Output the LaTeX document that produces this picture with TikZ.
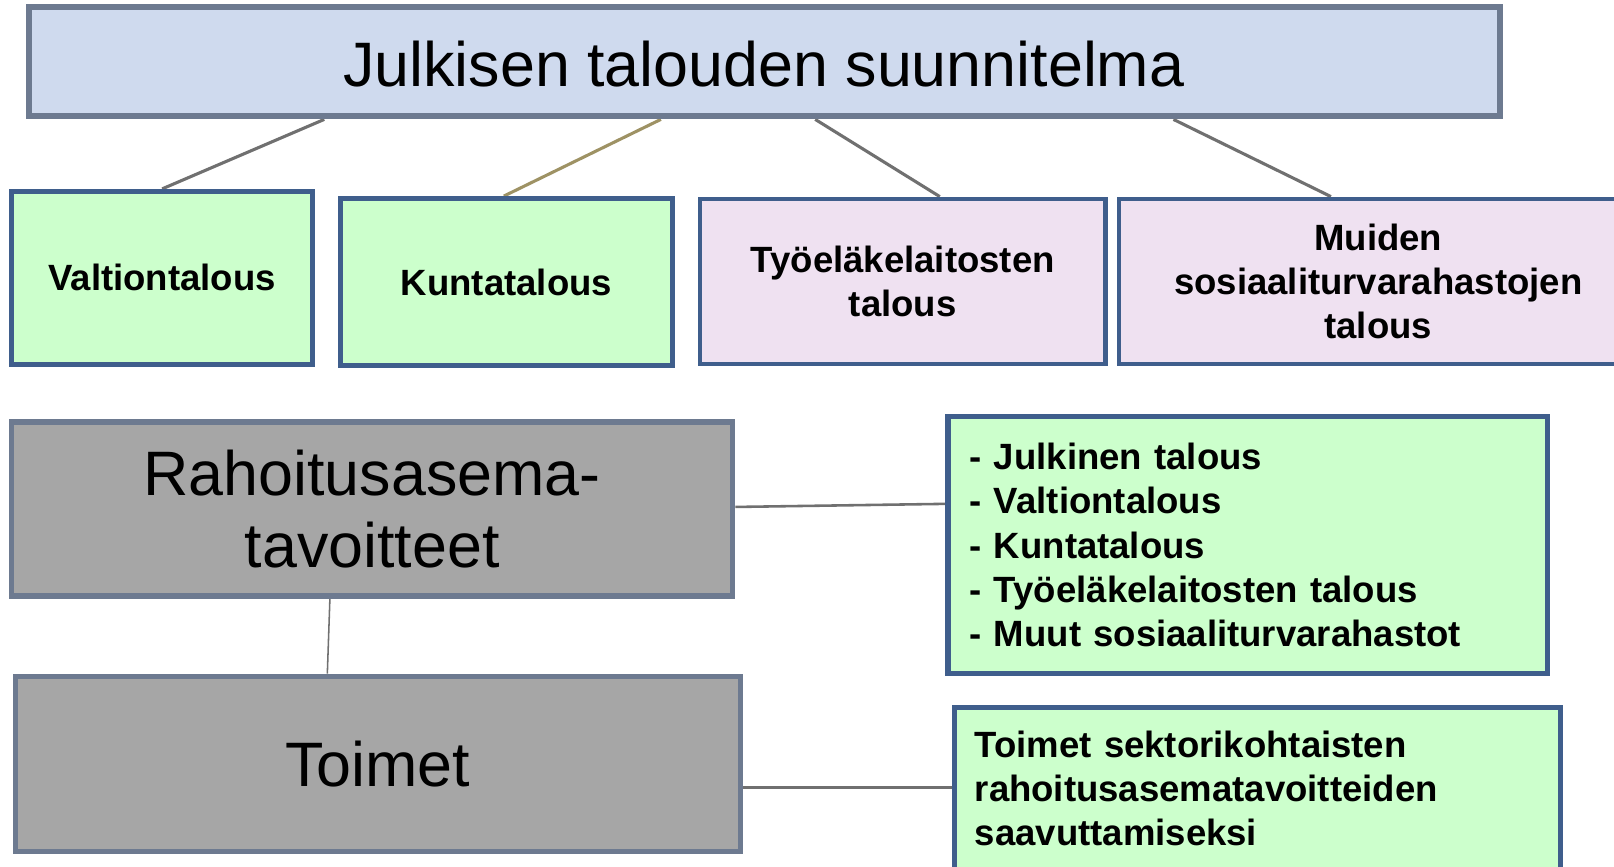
\documentclass[tikz,border=0pt]{standalone}
\usepackage{fontspec}
\setmainfont{Liberation Sans}
\usetikzlibrary{calc,backgrounds}
\definecolor{titlefill}{HTML}{CFDAEE}
\definecolor{grayborder}{HTML}{6D7A90}
\definecolor{greenfill}{HTML}{CCFFCC}
\definecolor{blueborder}{HTML}{3F5E8C}
\definecolor{lavfill}{HTML}{EFE1F1}
\definecolor{grayfill}{HTML}{A6A6A6}
\definecolor{linegray}{HTML}{707070}
\definecolor{oliveline}{HTML}{9E9264}
\tikzset{
  bigfont/.style={font=\fontsize{61}{70}\selectfont},
  labfont/.style={font=\fontsize{35.5}{43}\selectfont\bfseries},
  titlebox/.style={draw=grayborder, line width=6pt, fill=titlefill, inner sep=0pt, bigfont},
  greenbox/.style={draw=blueborder, line width=5pt, fill=greenfill, inner sep=0pt, labfont, align=center},
  lavbox/.style={draw=blueborder, line width=4pt, fill=lavfill, inner sep=0pt, labfont, align=center},
  graybox/.style={draw=grayborder, line width=5pt, fill=grayfill, inner sep=0pt, bigfont, align=center},
  listbox/.style={draw=blueborder, line width=5pt, fill=greenfill, inner xsep=21pt, inner ysep=0pt, labfont, align=left},
  conn/.style={draw=linegray, line width=3pt},
}
\begin{document}
\begin{tikzpicture}[x=1pt,y=-1pt]
\useasboundingbox (0,0) rectangle (1568,842);

\node[titlebox, minimum width=1429pt, minimum height=106pt] (title) at (742.5,60) {};
\node[bigfont, anchor=base] (titletext) at (742,84) {Julkisen talouden suunnitelma};

\node[greenbox, minimum width=293pt, minimum height=168pt] (valt) at (157.5,270) {Valtiontalous};
\node[greenbox, minimum width=322pt, minimum height=162pt] (kunta) at (492,274) {Kuntatalous};
\node[lavbox, minimum width=394pt, minimum height=161pt] (tyo) at (877,273.5) {Työeläkelaitosten\\talous};
\node[lavbox, minimum width=504pt, minimum height=161pt] (muid) at (1339,273.5) {Muiden\\sosiaaliturvarahastojen\\talous};

\node[graybox, minimum width=701pt, minimum height=169pt] (rah) at (361.5,494.5) {Rahoitusasema-\\tavoitteet};
\node[graybox, minimum width=704pt, minimum height=170pt] (toim) at (367,742) {Toimet};

\node[listbox, text width=540pt, minimum height=249pt] (list) at (1212,529.5) {- Julkinen talous\\- Valtiontalous\\- Kuntatalous\\- Työeläkelaitosten talous\\- Muut sosiaaliturvarahastot};
\node[listbox, inner xsep=20pt, text width=549pt, minimum height=158pt] (toimbox) at (1221.5,766) {Toimet sektorikohtaisten\\rahoitusasematavoitteiden\\saavuttamiseksi};

\begin{scope}[on background layer]
\fill[white] (0,0) rectangle (1568,842);
\draw[conn] ($(title.south west)+(290,0)$) -- ($(valt.north west)+(149,0)$);
\draw[conn, draw=oliveline] ($(title.south west)+(617,0)$) -- ($(kunta.north west)+(161,0)$);
\draw[conn] ($(title.south west)+(767,0)$) -- ($(tyo.north west)+(235,0)$);
\draw[conn] ($(title.south west)+(1115,0)$) -- ($(muid.north west)+(208,0)$);
\draw[draw=linegray, line width=2.5pt] ($(rah.east)+(0,-2)$) -- ($(list.west)+(0,-40)$);
\draw[draw=linegray, line width=1.5pt] ($(rah.south)+(-41,0)$) -- ($(toim.north)+(-49,0)$);
\draw[conn] ($(toim.east)+(0,23)$) -- ($(toimbox.west)+(0,-1)$);
\end{scope}
\end{tikzpicture}
\end{document}
